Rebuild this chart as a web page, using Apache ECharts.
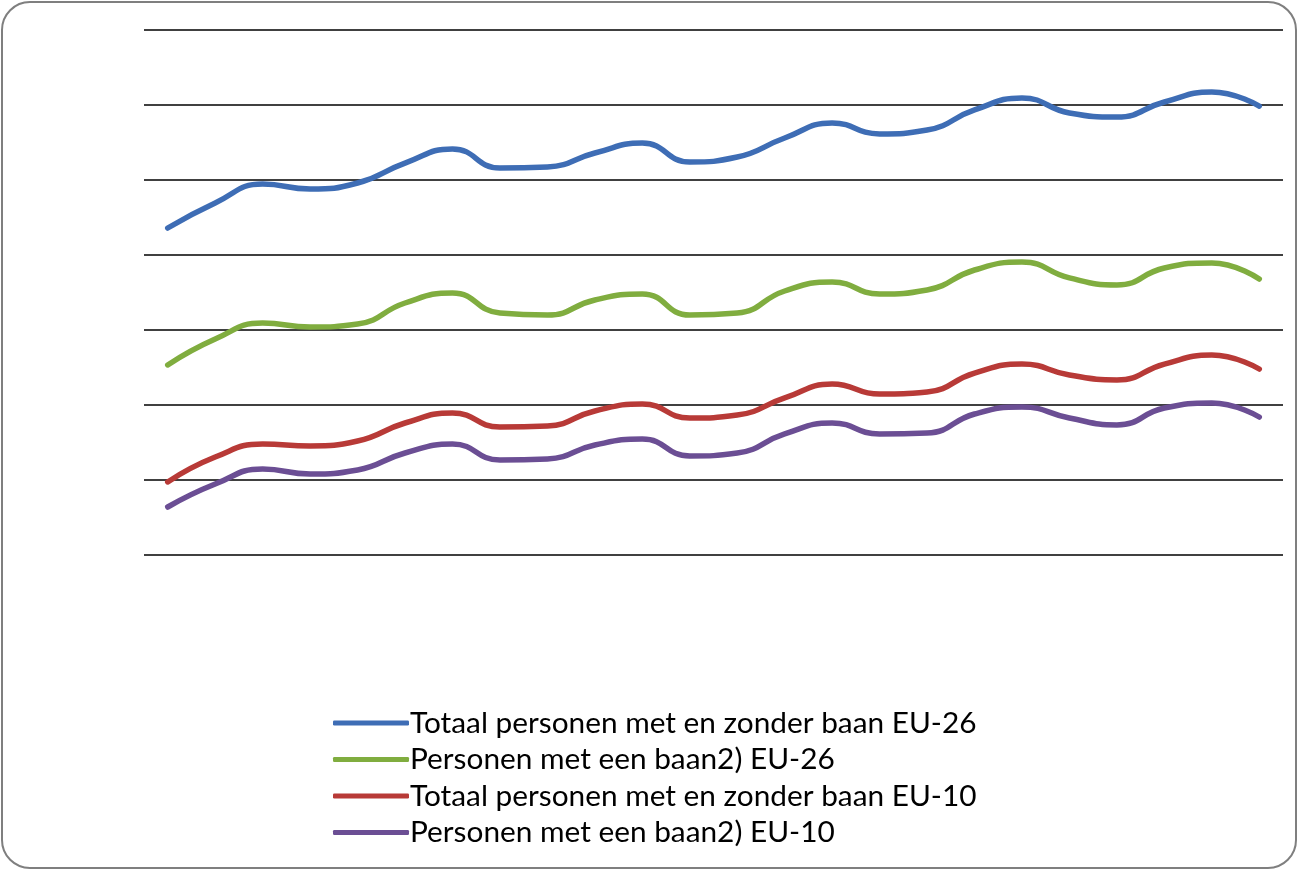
<!DOCTYPE html>
<html>
<head>
<meta charset="utf-8">
<script src="https://cdn.jsdelivr.net/npm/echarts@6/dist/echarts.min.js"></script>
<style>
html,body{margin:0;padding:0;background:#fff;}
#chart{width:1299px;height:871px;}
</style>
</head>
<body>
<div id="chart"></div>
<script>
const categories = ['1','2','3','4','5','6','7','8','9','10','11','12','13','14','15','16','17','18','19','20','21','22','23','24'];
const seriesNames = [
  'Totaal personen met en zonder baan EU-26',
  'Personen met een baan2) EU-26',
  'Totaal personen met en zonder baan EU-10',
  'Personen met een baan2) EU-10'
];
const totaalEU26 = [218, 234.7, 247.3, 244, 248, 261.3, 270.7, 258, 258.7, 268, 274.7, 262, 265.3, 278, 288, 280.7, 283.3, 296.7, 304.7, 294.7, 292, 302, 308.7, 299.3];
const baanEU26 = [126.7, 144, 154.7, 152, 154, 168, 174.7, 161.3, 160, 170, 174, 160, 161.3, 176, 182, 174, 176.7, 190, 195.3, 184.7, 180, 191.3, 194.7, 184];
const totaalEU10 = [48.7, 65.3, 74, 72.7, 76, 88, 94.7, 85.3, 86, 96, 100.7, 91.3, 93.3, 104.7, 114, 107.3, 108.7, 121.3, 127.3, 120, 116.7, 127.3, 133.3, 124];
const baanEU10 = [32, 47.3, 57.3, 54, 56.7, 68, 74, 63.3, 64, 73.3, 77.3, 66, 68, 80.7, 88, 80.7, 81.3, 94, 98.7, 91.3, 86.7, 98, 101.3, 92];
const yTicks = [0, 50, 100, 150, 200, 250, 300, 350];

const colors = ['#3E6DB5', '#80AD3F', '#B83A37', '#6B4E94'];
const dataSets = [totaalEU26, baanEU26, totaalEU10, baanEU10];

const chart = echarts.init(document.getElementById('chart'), null, {renderer: 'canvas'});
chart.setOption({
  animation: false,
  backgroundColor: '#fff',
  color: colors,
  graphic: [{
    type: 'rect',
    shape: {x: 2, y: 2, width: 1294, height: 866, r: 28},
    style: {fill: 'none', stroke: '#7f7f7f', lineWidth: 2},
    silent: true
  }],
  grid: {left: 144, right: 16, top: 30, bottom: 316, containLabel: false},
  xAxis: {
    type: 'category',
    data: categories,
    boundaryGap: true,
    axisLine: {show: false},
    axisTick: {show: false},
    axisLabel: {show: false},
    splitLine: {show: false}
  },
  yAxis: {
    type: 'value',
    min: yTicks[0],
    max: yTicks[yTicks.length - 1],
    interval: yTicks[1] - yTicks[0],
    axisLine: {show: false},
    axisTick: {show: false},
    axisLabel: {show: false},
    splitLine: {show: true, lineStyle: {color: '#000', width: 1.5}}
  },
  legend: {
    orient: 'vertical',
    left: 328,
    top: 703,
    itemWidth: 76,
    itemHeight: 5,
    itemGap: 6.5,
    icon: 'roundRect',
    data: seriesNames,
    textStyle: {fontFamily: 'Lato', fontSize: 29.8, color: '#000', padding: [0, 0, 0, -4]}
  },
  series: seriesNames.map((name, i) => ({
    name: name,
    type: 'line',
    data: dataSets[i],
    smooth: 0.5,
    showSymbol: false,
    symbol: 'none',
    lineStyle: {width: 5.5, color: colors[i], cap: 'round'},
    itemStyle: {color: colors[i]}
  }))
});
</script>
</body>
</html>
